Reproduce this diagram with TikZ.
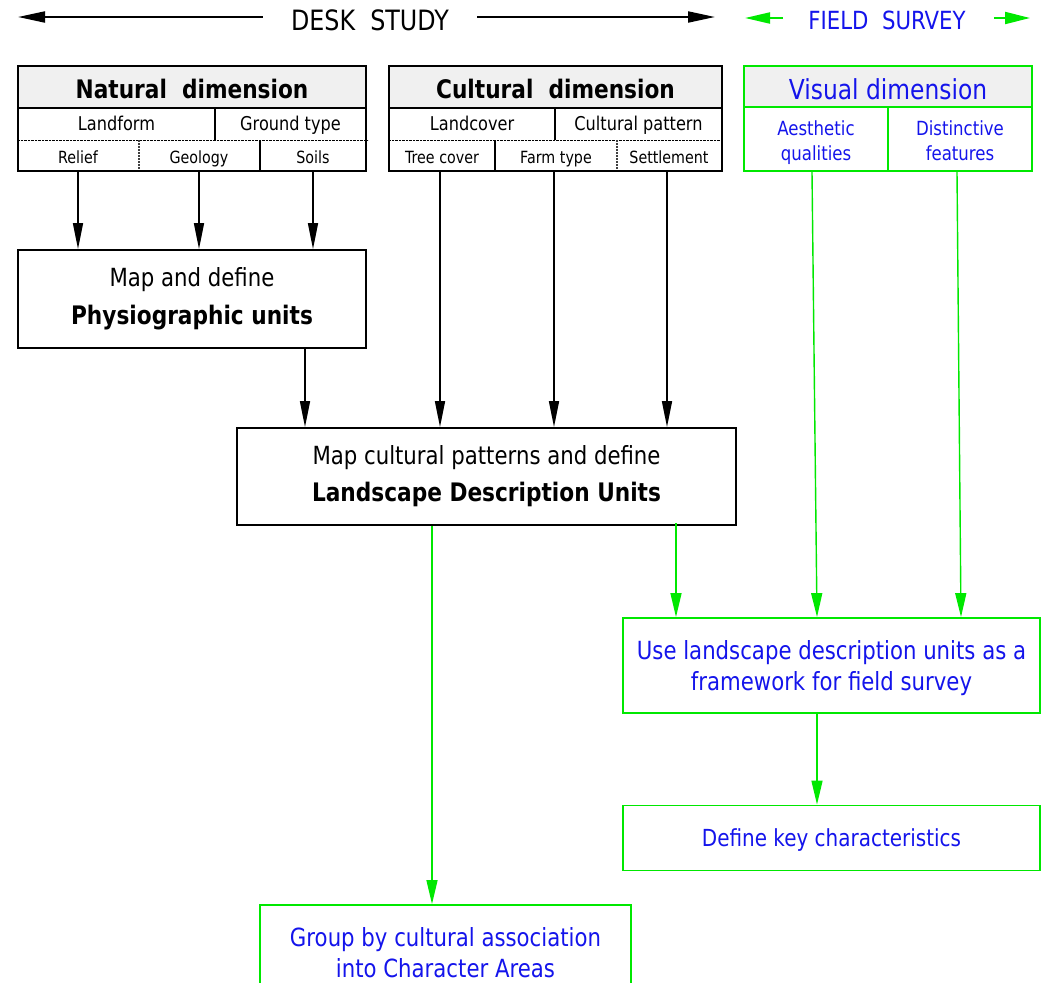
\documentclass[tikz,border=0pt]{standalone}
\usepackage{fontspec}
\setmainfont{DejaVu Sans}[FakeStretch=0.85]
\usetikzlibrary{arrows.meta}
\definecolor{fsgreen}{RGB}{0,232,0}
\definecolor{fsblue}{RGB}{20,20,235}
\definecolor{headgray}{RGB}{240,240,240}
\begin{document}
\begin{tikzpicture}[x=1pt,y=-1pt,
  tabbox/.style={draw,line width=2pt,inner sep=0pt},
  procbox/.style={draw,line width=1.8pt,inner sep=0pt,align=center},
  ttl/.style={font=\fontsize{25.5}{30}\selectfont\bfseries,inner sep=0pt,text height=18.6pt,text depth=0pt},
  rowtwo/.style={font=\fontsize{19}{23}\selectfont,inner sep=0pt,text height=13.9pt,text depth=0pt},
  rowthree/.style={font=\fontsize{16.8}{20}\selectfont,inner sep=0pt,text height=12.3pt,text depth=0pt},
  body/.style={font=\fontsize{25}{31}\selectfont},
  arr/.style={-{Triangle[length=26pt,width=10pt]},line width=1.6pt},
  garr/.style={-{Triangle[length=24pt,width=11pt]},line width=1.4pt,fsgreen}]
\clip (0,0) rectangle (1042,983);
% top line: desk study / field survey
\coordinate (dl) at (18,17);
\coordinate (dr) at (715,17);
\coordinate (fl) at (745,18);
\coordinate (fr) at (1030,18);
\node[font=\fontsize{28}{30}\selectfont,inner sep=0pt,text height=20.4pt,text depth=0pt] (desk) at (370,20) {DESK\ \ STUDY};
\node[font=\fontsize{25}{30}\selectfont,inner sep=0pt,text height=18.2pt,text depth=0pt,text=fsblue] (field) at (887,20) {FIELD\ \ SURVEY};
\draw[-{Triangle[length=27pt,width=11pt]},line width=2pt] ([xshift=-28pt]desk.west |- dl) -- (dl);
\draw[-{Triangle[length=27pt,width=11pt]},line width=2pt] ([xshift=28pt]desk.east |- dr) -- (dr);
\draw[-{Triangle[length=25pt,width=11pt]},line width=2pt,fsgreen] ([xshift=-25pt]field.west |- fl) -- (fl);
\draw[-{Triangle[length=25pt,width=12pt]},line width=2pt,fsgreen] ([xshift=28pt]field.east |- fr) -- (fr);
% natural dimension table
\fill[headgray] (18,66) rectangle (366,108);
\draw[line width=1.5pt] (18,108) -- (366,108);
\draw[line width=1.5pt] (215,108) -- (215,140);
\draw[densely dotted] (18,140) -- (368,140);
\draw[line width=2pt,densely dotted,black!75] (139,140) -- (139,171);
\draw[line width=1.5pt] (260,140) -- (260,171);
\node[tabbox,minimum width=348pt,minimum height=105pt] (natural) at (192,118.5) {};
\node[ttl] (natT) at (192,89.5) {Natural\ \ dimension};
\node[rowtwo] (landform) at (116.5,123.5) {Landform};
\node[rowtwo] (ground) at (290.5,123.5) {Ground type};
\node[rowthree] (relief) at (78,157.5) {Relief};
\node[rowthree] (geology) at (199,157.5) {Geology};
\node[rowthree] (soils) at (313,157.5) {Soils};
% cultural dimension table
\fill[headgray] (389,66) rectangle (722,108);
\draw[line width=1.5pt] (389,108) -- (722,108);
\draw[line width=1.5pt] (555,108) -- (555,140);
\draw[densely dotted] (389,140) -- (722,140);
\draw[line width=1.5pt] (495,140) -- (495,171);
\draw[line width=2pt,densely dotted,black!75] (617,140) -- (617,171);
\node[tabbox,minimum width=333pt,minimum height=105pt] (cultural) at (555.5,118.5) {};
\node[ttl] (culT) at (555.5,89.5) {Cultural\ \ dimension};
\node[rowtwo] (landcover) at (472,123.5) {Landcover};
\node[rowtwo] (pattern) at (638.5,123.5) {Cultural pattern};
\node[rowthree] (tree) at (442,157.5) {Tree cover};
\node[rowthree] (farm) at (556,157.5) {Farm type};
\node[rowthree] (settle) at (669,157.5) {Settlement};
% visual dimension table
\fill[headgray] (744,66) rectangle (1032,107);
\draw[line width=2pt,fsgreen] (744,107) -- (1032,107);
\draw[line width=2pt,fsgreen] (888,107) -- (888,171);
\node[tabbox,draw=fsgreen,minimum width=288pt,minimum height=105pt] (visual) at (888,118.5) {};
\node[font=\fontsize{27.5}{30}\selectfont,inner sep=0pt,text height=20.1pt,text depth=0pt,text=fsblue] (visT) at (888,89) {Visual dimension};
\node[font=\fontsize{19.5}{25}\selectfont,align=center,text=fsblue,inner sep=0pt,text depth=0pt] (aesth) at (816,141) {Aesthetic\\qualities};
\node[font=\fontsize{19.5}{25}\selectfont,align=center,text=fsblue,inner sep=0pt,text depth=0pt] (distinct) at (960,141) {Distinctive\\features};
% process boxes
\node[procbox,minimum width=348pt,minimum height=98pt,body] (phys) at (192,299) {Map and define\\[7pt]\textbf{\fontsize{25.5}{31}\selectfont Physiographic units}};
\node[procbox,minimum width=499pt,minimum height=97pt,body] (ldu) at (486.5,476.5) {Map cultural patterns and define\\[6pt]\textbf{\fontsize{25.5}{31}\selectfont Landscape Description Units}};
\node[procbox,draw=fsgreen,text=fsblue,minimum width=417pt,minimum height=95pt,body,text depth=0pt] (use) at (831.5,665.5) {Use landscape description units as a\\framework for field survey};
\node[procbox,draw=fsgreen,text=fsblue,minimum width=417pt,minimum height=65pt,font=\fontsize{23.5}{31}\selectfont,text depth=0pt] (define) at (831.5,838) {Define key characteristics};
\node[procbox,draw=fsgreen,text=fsblue,minimum width=371pt,minimum height=96pt,body] (group) at (445.5,953) {Group by cultural association\\into Character Areas};
% arrows
\foreach \c in {relief,geology,soils} % edit here for the natural arrows
\draw[arr] (\c |- natural.south) -- (\c |- phys.north);
\foreach \c in {tree,farm,settle} % edit here for the cultural arrows
\draw[arr] ([xshift=-2pt]\c |- cultural.south) -- ([xshift=-2pt]\c |- ldu.north);
\draw[arr] ([xshift=113pt]phys.south) -- ([xshift=113pt]phys.south |- ldu.north);
\draw[garr] ([xshift=-4pt]aesth |- visual.south) -- ([xshift=1pt]aesth |- use.north);
\draw[garr] ([xshift=-3pt]distinct |- visual.south) -- ([xshift=1pt]distinct |- use.north);
\draw[garr] ([xshift=189.5pt,yshift=3pt]ldu.south) -- ([xshift=189.5pt]ldu.south |- use.north);
\draw[garr] ([xshift=-14.5pt]use.south) -- ([xshift=-14.5pt]use.south |- define.north);
\draw[garr] ([xshift=-54.5pt]ldu.south) -- ([xshift=-54.5pt]ldu.south |- group.north);
\end{tikzpicture}
\end{document}
